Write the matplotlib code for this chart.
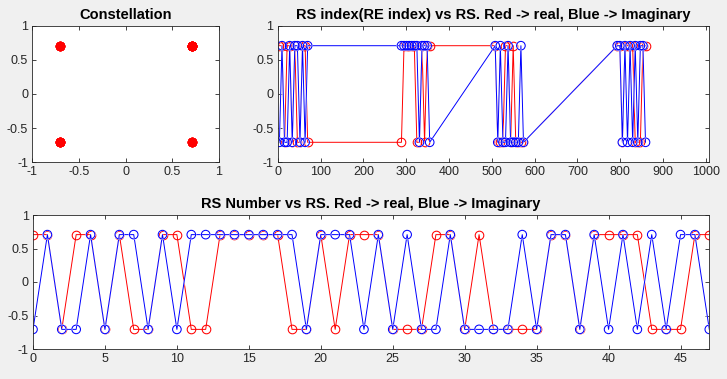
import matplotlib
matplotlib.use("Agg")
import matplotlib.pyplot as plt
import matplotlib.patheffects as pe
import numpy as np

plt.rcParams['font.family'] = ['Liberation Sans', 'DejaVu Sans']

a = 0.7071
# RS real / imaginary signs (RS number 0..47)
rs_real_sign = [1, 1, -1, 1, 1, -1, 1, -1, -1, 1, 1, -1,
                -1, 1, 1, 1, 1, 1, -1, -1, 1, -1, 1, 1,
                1, -1, -1, -1, 1, 1, -1, 1, -1, -1, -1, -1,
                1, 1, -1, 1, 1, 1, 1, -1, -1, -1, 1, 1]
rs_imag_sign = [-1, 1, -1, -1, 1, -1, 1, 1, -1, 1, -1, 1,
                1, 1, 1, 1, 1, 1, 1, -1, 1, 1, 1, -1,
                1, -1, 1, -1, -1, 1, -1, -1, -1, -1, 1, -1,
                1, 1, -1, 1, -1, 1, -1, 1, -1, 1, 1, -1]
rs_real = [a * s for s in rs_real_sign]
rs_imag = [a * s for s in rs_imag_sign]

# RE indices of the reference signals
re_index = [4, 10, 16, 22, 28, 34, 40, 46, 52, 58, 64, 70,
            289, 295, 301, 307, 313, 319, 325, 331, 337, 343, 349, 355,
            508, 514, 520, 526, 532, 538, 544, 550, 556, 562, 568, 574,
            793, 799, 805, 811, 817, 823, 829, 835, 841, 847, 853, 859]
rs_number = list(range(len(rs_real)))

W, H = 727, 379
fig = plt.figure(figsize=(W / 100, H / 100), dpi=100)
fig.patch.set_facecolor('#F0F0F0')

txt = '#262626'

def ax_px(l, t, r, b):
    return fig.add_axes([l / W, 1 - b / H, (r - l) / W, (b - t) / H])

def style(ax):
    ax.set_facecolor('white')
    ax.tick_params(direction='in', length=3, width=0.6, colors=txt,
                   labelsize=9, top=True, right=True, pad=3)
    for s in ax.spines.values():
        s.set_linewidth(0.6)
        s.set_color(txt)
    ax.set_ylim(-1, 1)
    ax.set_yticks([-1, -0.5, 0, 0.5, 1])
    ax.set_yticklabels(['-1', '-0.5', '0', '0.5', '1'])

def series(ax, x):
    ax.plot(x, rs_real, '-o', color='red', lw=0.7, markersize=6.2,
            markerfacecolor='none', markeredgewidth=0.75)
    ax.plot(x, rs_imag, '-o', color='blue', lw=0.7, markersize=6.2,
            markerfacecolor='none', markeredgewidth=0.75,
            path_effects=[pe.Stroke(linewidth=0.9, foreground='white'),
                          pe.Stroke(linewidth=0.9, foreground='white'),
                          pe.Normal()])

# Constellation
ax1 = ax_px(32.3, 25.7, 219, 162.3)
style(ax1)
ax1.plot(rs_real, rs_imag, 'o', color='red', markersize=6,
         markeredgewidth=0.8, markeredgecolor='red')
ax1.set_xlim(-1, 1)
ax1.set_xticks([-1, -0.5, 0, 0.5, 1])
ax1.set_xticklabels(['-1', '-0.5', '0', '0.5', '1'])
ax1.set_title('Constellation', fontsize=10.5, fontweight='bold', pad=5)

# RS index vs RS
ax2 = ax_px(277.7, 25.7, 709.3, 162.3)
style(ax2)
series(ax2, re_index)
ax2.set_xlim(0, 1008)
ax2.set_xticks(list(range(0, 1001, 100)))
ax2.set_title('RS index(RE index) vs RS. Red -> real, Blue -> Imaginary',
              fontsize=10.5, fontweight='bold', pad=5)

# RS number vs RS
ax3 = ax_px(33, 215, 709.3, 349)
style(ax3)
series(ax3, rs_number)
ax3.set_xlim(0, 47)
ax3.set_xticks(list(range(0, 46, 5)))
ax3.set_title('RS Number vs RS. Red -> real, Blue -> Imaginary',
              fontsize=10.5, fontweight='bold', pad=5)

for ax in (ax1, ax2, ax3):
    for lab in ax.get_xticklabels() + ax.get_yticklabels():
        lab.set_color(txt)

fig.savefig('out.png', dpi=100, facecolor=fig.get_facecolor())
